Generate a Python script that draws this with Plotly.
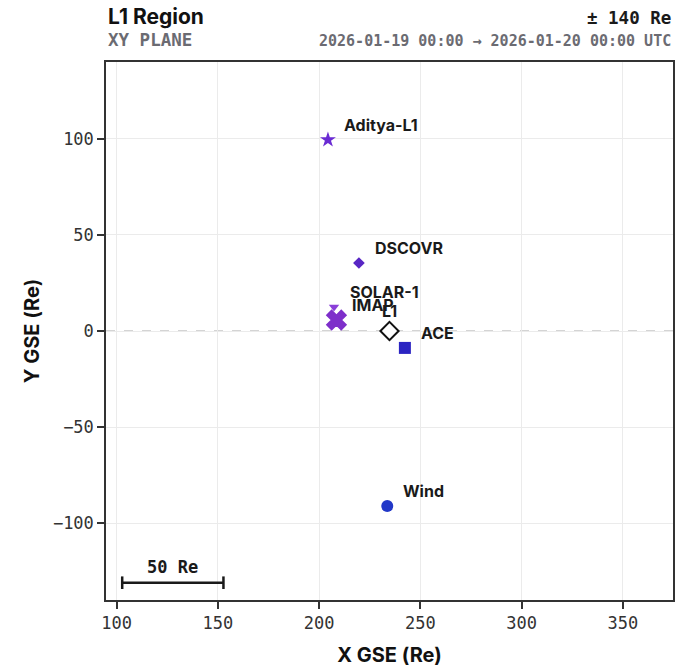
import plotly.graph_objects as go

# ---- data ----
names = ["Aditya-L1", "DSCOVR", "IMAP", "SOLAR-1", "ACE", "Wind"]
x_gse = [204.4, 219.7, 208.6, 207.4, 242.4, 233.7]
y_gse = [99.5, 35.4, 5.7, 12.5, -8.8, -91.1]
symbols = ["star", "diamond", "x", "triangle-down", "square", "circle"]
colors = ["#6a2bd3", "#5826c4", "#7e2fca", "#8a3fd8", "#2b24c2", "#2238c8"]
sizes = [12, 9, 17, 9, 12, 12]

l1_name = "L1"
l1_x = 234.8
l1_y = 0.0
half_span = 140
scale_len = 50

x_ticks = [100, 150, 200, 250, 300, 350]
y_ticks = [-100, -50, 0, 50, 100]

MONO = "DejaVu Sans Mono"
SANS = "Inter"

fig = go.Figure()

# reference line at y = 0
fig.add_shape(type="line", xref="paper", x0=0, x1=1, yref="y", y0=l1_y, y1=l1_y,
              line=dict(color="#aaaaaa", width=1.2, dash="dash"), layer="below")

for n, x, y, s, c, sz in zip(names, x_gse, y_gse, symbols, colors, sizes):
    fig.add_trace(go.Scatter(x=[x], y=[y], mode="markers", name=n,
                             marker=dict(symbol=s, color=c, size=sz,
                                         line=dict(width=1.5 if s == "x" else 0, color=c)),
                             showlegend=False, hoverinfo="name"))
    fig.add_annotation(x=x, y=y, text=n, showarrow=False, xanchor="left", yanchor="middle",
                       xshift=14, yshift=15,
                       font=dict(family=SANS, size=16, color="#1a1a1a", weight="bold"))

# L1 point
fig.add_trace(go.Scatter(x=[l1_x], y=[l1_y], mode="markers", name=l1_name,
                         marker=dict(symbol="diamond", color="white", size=14,
                                     line=dict(width=2, color="#111111")),
                         showlegend=False))
fig.add_annotation(x=l1_x, y=l1_y, text=l1_name, showarrow=False, xanchor="center",
                   yanchor="middle", yshift=20,
                   font=dict(family=SANS, size=16, color="#1a1a1a", weight="bold"))

# scale bar
xmin, xmax = l1_x - half_span, l1_x + half_span
sb_x0 = xmin + 8
sb_y = -half_span + 9
fig.add_trace(go.Scatter(x=[sb_x0, sb_x0 + scale_len], y=[sb_y, sb_y], mode="lines+markers",
                         line=dict(color="#1a1a1a", width=2.5),
                         marker=dict(symbol="line-ns", size=9,
                                     line=dict(width=2.5, color="#1a1a1a")),
                         showlegend=False, hoverinfo="skip"))
fig.add_annotation(x=sb_x0 + scale_len / 2, y=sb_y, text=f"{scale_len} Re", showarrow=False,
                   xanchor="center", yanchor="middle", yshift=16,
                   font=dict(family=MONO, size=17, color="#1a1a1a", weight="bold"))

# header texts
fig.add_annotation(xref="paper", yref="paper", x=0.0, y=(600 - 16) / 538, text="L1 Region",
                   showarrow=False, xanchor="left", yanchor="middle",
                   font=dict(family=SANS, size=21, color="#111111", weight="bold"))
fig.add_annotation(xref="paper", yref="paper", x=0.0, y=(600 - 40) / 538, text="XY PLANE",
                   showarrow=False, xanchor="left", yanchor="middle",
                   font=dict(family=MONO, size=17.5, color="#6b6b72", weight="bold"))
fig.add_annotation(xref="paper", yref="paper", x=1.0, y=(600 - 18) / 538,
                   text=f"± {half_span} Re", showarrow=False, xanchor="right", yanchor="middle",
                   font=dict(family=MONO, size=17.5, color="#1a1a1a", weight="bold"))
fig.add_annotation(xref="paper", yref="paper", x=1.0, y=(600 - 41) / 538,
                   text="2026-01-19 00:00 → 2026-01-20 00:00 UTC", showarrow=False,
                   xanchor="right", yanchor="middle",
                   font=dict(family=MONO, size=15, color="#6b6b72", weight="bold"))

axis_common = dict(showgrid=True, gridcolor="#ebebeb", gridwidth=1, zeroline=False,
                   showline=True, linecolor="#333333", linewidth=1.5, mirror=True,
                   ticks="outside", ticklen=7, tickwidth=1.5, tickcolor="#333333",
                   tickfont=dict(family=MONO, size=17, color="#333333"))

fig.update_xaxes(range=[xmin, xmax], tickvals=x_ticks,
                 title=dict(text="X GSE (Re)", standoff=16,
                            font=dict(family=SANS, size=20, color="#111111", weight="bold")),
                 **axis_common)
fig.update_yaxes(range=[-half_span, half_span], tickvals=y_ticks,
                 title=dict(text="Y GSE (Re)", standoff=8,
                            font=dict(family=SANS, size=20, color="#111111", weight="bold")),
                 **axis_common)

fig.update_layout(width=677, height=670, margin=dict(l=106, r=2, t=62, b=70),
                  paper_bgcolor="white", plot_bgcolor="white")

fig.write_html("out.html", config={"displayModeBar": False},
               post_script="document.body.style.margin='0';document.body.style.overflow='hidden';")
